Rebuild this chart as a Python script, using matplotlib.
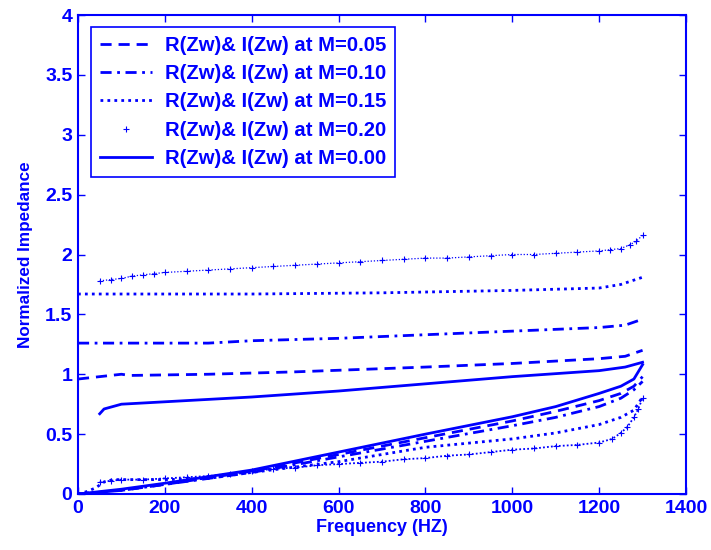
import matplotlib
matplotlib.use("Agg")
import matplotlib.pyplot as plt
from matplotlib.lines import Line2D

plt.rcParams['font.family'] = ['Liberation Sans', 'DejaVu Sans']
plt.rcParams['font.weight'] = 'bold'

BLUE = '#0000ff'

# ---- data ----
# upper (real part) curves
x_re_005 = [0, 50, 100, 120, 300, 500, 800, 1000, 1200, 1260, 1300]
y_re_005 = [0.96, 0.98, 1.00, 0.99, 1.00, 1.02, 1.06, 1.09, 1.13, 1.15, 1.20]
x_re_010 = [0, 300, 400, 600, 800, 1000, 1200, 1260, 1300]
y_re_010 = [1.26, 1.26, 1.28, 1.30, 1.33, 1.36, 1.39, 1.41, 1.46]
x_re_015 = [0, 400, 700, 1000, 1200, 1250, 1300]
y_re_015 = [1.67, 1.67, 1.68, 1.70, 1.72, 1.75, 1.81]
x_re_020 = [50, 75, 100, 125, 150, 175, 200, 250, 300, 350, 400, 450, 500, 550, 600, 650, 700, 750,
            800, 850, 900, 950, 1000, 1050, 1100, 1150, 1200, 1225, 1250, 1270, 1285, 1300]
y_re_020 = [1.78, 1.79, 1.80, 1.82, 1.83, 1.84, 1.85, 1.86, 1.87, 1.88, 1.89, 1.90, 1.91, 1.92, 1.93, 1.94,
            1.95, 1.96, 1.97, 1.97, 1.98, 1.99, 2.00, 2.00, 2.01, 2.02, 2.03, 2.04, 2.05, 2.08, 2.11, 2.16]
x_re_000 = [50, 60, 100, 200, 400, 600, 800, 1000, 1200, 1260, 1300]
y_re_000 = [0.67, 0.71, 0.75, 0.77, 0.81, 0.86, 0.92, 0.98, 1.03, 1.06, 1.10]

# lower (imaginary part) curves
x_im_005 = [0, 100, 200, 400, 600, 800, 1000, 1100, 1200, 1250, 1280, 1300]
y_im_005 = [0.0, 0.03, 0.08, 0.19, 0.33, 0.47, 0.61, 0.69, 0.78, 0.84, 0.90, 0.98]
x_im_010 = [0, 100, 200, 400, 600, 800, 1000, 1100, 1200, 1250, 1280, 1300]
y_im_010 = [0.0, 0.03, 0.08, 0.18, 0.31, 0.44, 0.57, 0.64, 0.73, 0.80, 0.87, 0.94]
x_im_015 = [0, 20, 40, 60, 80, 200, 300, 400, 600, 800, 1000, 1100, 1200, 1250, 1280, 1300]
y_im_015 = [0.0, 0.02, 0.05, 0.10, 0.12, 0.12, 0.13, 0.18, 0.27, 0.39, 0.46, 0.51, 0.58, 0.64, 0.70, 0.81]
x_im_020 = [50, 75, 100, 150, 200, 250, 300, 350, 400, 450, 500, 550, 600, 650, 700, 750, 800, 850,
            900, 950, 1000, 1050, 1100, 1150, 1200, 1230, 1250, 1265, 1280, 1290, 1300]
y_im_020 = [0.10, 0.11, 0.12, 0.12, 0.13, 0.14, 0.15, 0.17, 0.19, 0.21, 0.22, 0.24, 0.25, 0.26, 0.27, 0.29,
            0.30, 0.32, 0.33, 0.35, 0.37, 0.38, 0.40, 0.41, 0.43, 0.46, 0.51, 0.56, 0.64, 0.71, 0.80]
x_im_000 = [0, 100, 200, 400, 600, 800, 1000, 1100, 1200, 1250, 1280, 1300]
y_im_000 = [0.0, 0.04, 0.09, 0.20, 0.35, 0.50, 0.645, 0.73, 0.84, 0.90, 0.96, 1.08]

labels = ['R(Zw)& I(Zw) at M=0.05', 'R(Zw)& I(Zw) at M=0.10',
          'R(Zw)& I(Zw) at M=0.15', 'R(Zw)& I(Zw) at M=0.20',
          'R(Zw)& I(Zw) at M=0.00']
x_ticks = [0, 200, 400, 600, 800, 1000, 1200, 1400]
y_ticks = [0, 0.5, 1, 1.5, 2, 2.5, 3, 3.5, 4]
y_ticklabels = ['0', '0.5', '1', '1.5', '2', '2.5', '3', '3.5', '4']

fig = plt.figure(figsize=(7.11, 5.5), dpi=100)
ax = fig.add_axes([78/711, 1 - 494/550, (686-78)/711, (494-15)/550])

lw = 2
DASH = (0, (4, 2.5))
DASHDOT = (0, (4, 2, 1, 2))
DOT = (0, (1, 1.5))
ax.plot(x_re_005, y_re_005, color=BLUE, lw=lw, ls=DASH)
ax.plot(x_im_005, y_im_005, color=BLUE, lw=lw, ls=DASH)
ax.plot(x_re_010, y_re_010, color=BLUE, lw=lw, ls=DASHDOT)
ax.plot(x_im_010, y_im_010, color=BLUE, lw=lw, ls=DASHDOT)
ax.plot(x_re_015, y_re_015, color=BLUE, lw=lw, ls=DOT)
ax.plot(x_im_015, y_im_015, color=BLUE, lw=lw, ls=DOT)
ax.plot(x_re_020, y_re_020, color=BLUE, lw=0.9, ls=(0, (1, 1.5)), marker='+', ms=4, mew=0.8)
ax.plot(x_im_020, y_im_020, color=BLUE, lw=1.3, ls=(0, (1, 1.2)), marker='+', ms=4, mew=0.8)
ax.plot(x_re_000, y_re_000, color=BLUE, lw=lw, ls='-')
ax.plot(x_im_000, y_im_000, color=BLUE, lw=lw, ls='-')

handles = [
    Line2D([], [], color=BLUE, lw=lw, ls=DASH),
    Line2D([], [], color=BLUE, lw=lw, ls=DASHDOT),
    Line2D([], [], color=BLUE, lw=lw, ls=DOT),
    Line2D([], [], color=BLUE, lw=0, marker='+', ms=5, mew=0.8),
    Line2D([], [], color=BLUE, lw=lw, ls='-'),
]
leg = ax.legend(handles, labels, loc='upper left', bbox_to_anchor=(13/608, 1 - 12/479),
                frameon=True, fancybox=False, edgecolor=BLUE, framealpha=1,
                prop={'family': 'Liberation Sans', 'weight': 'bold', 'size': 14.6},
                handlelength=2.6, handletextpad=0.6, labelspacing=0.46,
                borderpad=0.43, borderaxespad=0)
leg.get_frame().set_linewidth(1.2)
for t in leg.get_texts():
    t.set_color(BLUE)

ax.set_xlim(0, 1400)
ax.set_ylim(0, 4)
ax.set_xticks(x_ticks)
ax.set_xticklabels([str(v) for v in x_ticks])
ax.set_yticks(y_ticks)
ax.set_yticklabels(y_ticklabels)
ax.tick_params(direction='in', length=5, width=1, colors=BLUE, labelsize=14,
               top=True, right=True, pad=4)
for lab in ax.get_xticklabels() + ax.get_yticklabels():
    lab.set_fontweight('bold')
for s in ax.spines.values():
    s.set_color(BLUE)
    s.set_linewidth(1.5)

ax.set_xlabel('Frequency (HZ)', color=BLUE, fontsize=13, fontweight='bold', labelpad=2)
ax.set_ylabel('Normalized Impedance', color=BLUE, fontsize=12.3, fontweight='bold', labelpad=9)

fig.savefig('out.png', dpi=100)
